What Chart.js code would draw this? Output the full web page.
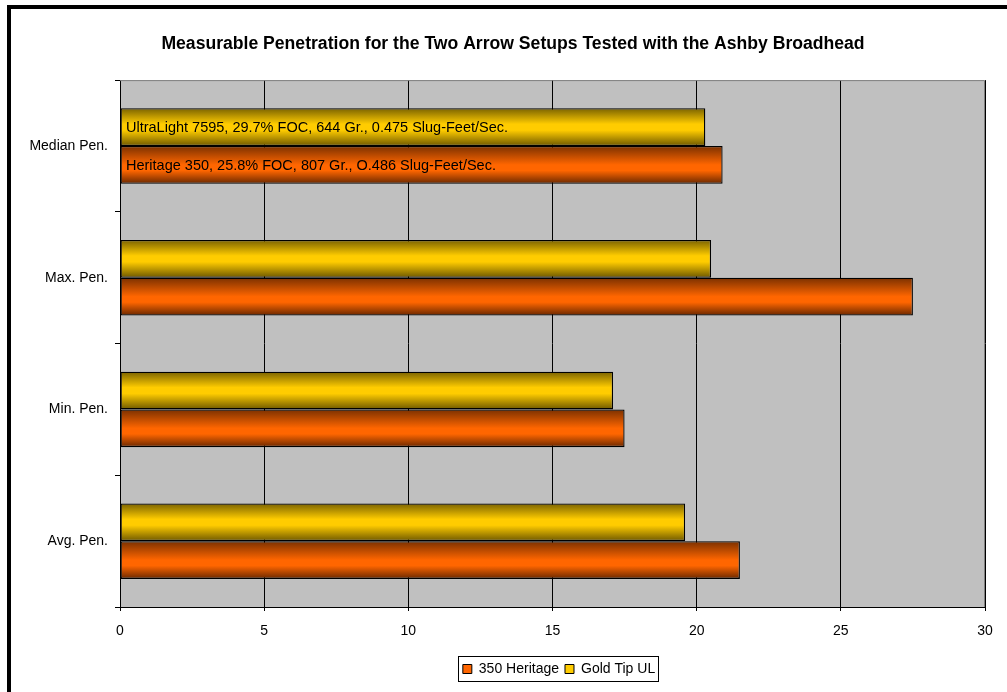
<!DOCTYPE html>
<html>
<head>
<meta charset="utf-8">
<script src="https://cdn.jsdelivr.net/npm/chart.js@4"></script>
<style>
  html, body { margin: 0; padding: 0; background: #fff; }
  #wrap { width: 1007px; height: 692px; position: relative; }
</style>
</head>
<body>
<div id="wrap"><canvas id="c" width="1007" height="692"></canvas></div>
<script>
// ---- data ----
const categories = ['Median Pen.', 'Max. Pen.', 'Min. Pen.', 'Avg. Pen.'];
const goldTipUL = [20.3, 20.5, 17.1, 19.6];
const heritage350 = [20.9, 27.5, 17.5, 21.5];
const seriesNames = ['Gold Tip UL', '350 Heritage'];
const xTicks = [0, 5, 10, 15, 20, 25, 30];
const barNotes = [
  'UltraLight 7595, 29.7% FOC, 644 Gr., 0.475 Slug-Feet/Sec.',
  'Heritage 350, 25.8% FOC, 807 Gr., O.486 Slug-Feet/Sec.'
];
const chartTitle = 'Measurable Penetration for the Two Arrow Setups Tested with the Ashby Broadhead';

const FONT = "'Liberation Sans', Arial, sans-serif";
const CAT_PCT = 0.573;

const palettes = [
  { solid: '#FFCC00', stops: [[0, '#7A6200'], [0.42, '#FFCC00'], [0.58, '#FFCC00'], [1, '#6E5800']] },
  { solid: '#FF6600', stops: [[0, '#7A3000'], [0.5, '#FF6600'], [0.65, '#FF6600'], [1, '#6A2800']] }
];

function barFill(dsIndex) {
  return function (ctx) {
    const pal = palettes[dsIndex];
    if (ctx.type !== 'data') return pal.solid;
    const chart = ctx.chart;
    const ys = chart.scales.y;
    if (!ys || ys.top === undefined) return pal.solid;
    const center = ys.getPixelForValue(ctx.dataIndex);
    const cat = (ys.bottom - ys.top) / categories.length;
    const thick = cat * CAT_PCT / 2;
    const top = dsIndex === 0 ? center - thick : center;
    const g = chart.ctx.createLinearGradient(0, top, 0, top + thick);
    pal.stops.forEach(s => g.addColorStop(s[0], s[1]));
    return g;
  };
}

const framePlugin = {
  id: 'frame',
  afterLayout(chart) {
    const lg = chart.legend;
    if (lg) { lg.left += 61; lg.right += 61; }
    const tb = chart.titleBlock;
    if (tb) { tb.left += 15; tb.right += 15; }
  },
  beforeDraw(chart) {
    const c = chart.ctx, a = chart.chartArea;
    c.save();
    c.fillStyle = '#fff';
    c.fillRect(0, 0, chart.width, chart.height);
    // outer frame (top and left)
    c.fillStyle = '#000';
    c.fillRect(7, 5, chart.width - 7, 4);
    c.fillRect(7, 5, 4, chart.height - 5);
    // plot background
    c.fillStyle = '#C0C0C0';
    c.fillRect(a.left, a.top, a.right - a.left, a.bottom - a.top);
    c.restore();
  },
  beforeDatasetsDraw(chart) {
    const c = chart.ctx, a = chart.chartArea;
    c.save();
    c.strokeStyle = '#808080';
    c.lineWidth = 1;
    c.beginPath();
    c.moveTo(a.left, a.top + 0.5);
    c.lineTo(a.right - 0.5, a.top + 0.5);
    c.lineTo(a.right - 0.5, a.bottom);
    c.stroke();
    c.restore();
  },
  afterDatasetsDraw(chart) {
    const c = chart.ctx, a = chart.chartArea;
    c.save();
    c.fillStyle = '#000';
    c.font = '14.5px ' + FONT;
    c.textBaseline = 'middle';
    c.textAlign = 'left';
    [0, 1].forEach(di => {
      const el = chart.getDatasetMeta(di).data[0];
      if (el) c.fillText(barNotes[di], a.left + 6, el.y + 1);
    });
    c.restore();
  },
  afterDraw(chart) {
    const lg = chart.legend;
    if (!lg || !lg.legendHitBoxes || !lg.legendHitBoxes.length) return;
    const hb = lg.legendHitBoxes;
    let l = Infinity, r = -Infinity, t = Infinity, b = -Infinity;
    hb.forEach(h => { l = Math.min(l, h.left); r = Math.max(r, h.left + h.width); t = Math.min(t, h.top); b = Math.max(b, h.top + h.height); });
    const c = chart.ctx;
    c.save();
    c.strokeStyle = '#000';
    c.lineWidth = 1;
    c.strokeRect(Math.round(l - 5) + 0.5, Math.round(t - 6) + 0.5, Math.round(r - l + 8), Math.round(b - t + 11));
    c.restore();
  }
};

new Chart(document.getElementById('c'), {
  type: 'bar',
  data: {
    labels: categories,
    datasets: [
      { label: seriesNames[0], data: goldTipUL, backgroundColor: barFill(0), borderColor: '#000', borderWidth: 1.3, borderSkipped: false },
      { label: seriesNames[1], data: heritage350, backgroundColor: barFill(1), borderColor: '#000', borderWidth: 1.3, borderSkipped: false }
    ]
  },
  options: {
    indexAxis: 'y',
    responsive: false,
    animation: false,
    devicePixelRatio: 1,
    categoryPercentage: CAT_PCT,
    barPercentage: 1.0,
    layout: { padding: { left: 11, right: 22, top: 0, bottom: 6 } },
    plugins: {
      title: {
        display: true,
        text: chartTitle,
        color: '#000',
        font: { family: FONT, size: 17.6, weight: 'bold' },
        padding: { top: 34, bottom: 25 }
      },
      legend: {
        position: 'bottom',
        reverse: true,
        labels: {
          color: '#000',
          font: { family: FONT, size: 14 },
          boxWidth: 9,
          boxHeight: 9,
          padding: 6,
          generateLabels(chart) {
            const items = Chart.defaults.plugins.legend.labels.generateLabels(chart);
            items.forEach(it => { it.fillStyle = palettes[it.datasetIndex].solid; it.strokeStyle = '#000'; it.lineWidth = 1; });
            return items;
          }
        }
      },
      tooltip: { enabled: false }
    },
    scales: {
      x: {
        type: 'linear',
        min: xTicks[0],
        max: xTicks[xTicks.length - 1],
        afterBuildTicks(scale) { scale.ticks = xTicks.map(v => ({ value: v })); },
        ticks: { color: '#000', font: { family: FONT, size: 14 }, padding: 12 },
        grid: { color: '#000', lineWidth: 1, tickLength: 4 },
        border: { color: '#000', width: 1 },
        afterFit(scale) { scale.height = 49; }
      },
      y: {
        type: 'category',
        offset: true,
        ticks: { color: '#000', font: { family: FONT, size: 14 }, padding: 7 },
        grid: { offset: true, drawOnChartArea: false, color: '#000', tickLength: 5 },
        border: { color: '#000', width: 1 },
        afterFit(scale) { scale.width = 109; }
      }
    }
  },
  plugins: [framePlugin]
});
</script>
</body>
</html>
